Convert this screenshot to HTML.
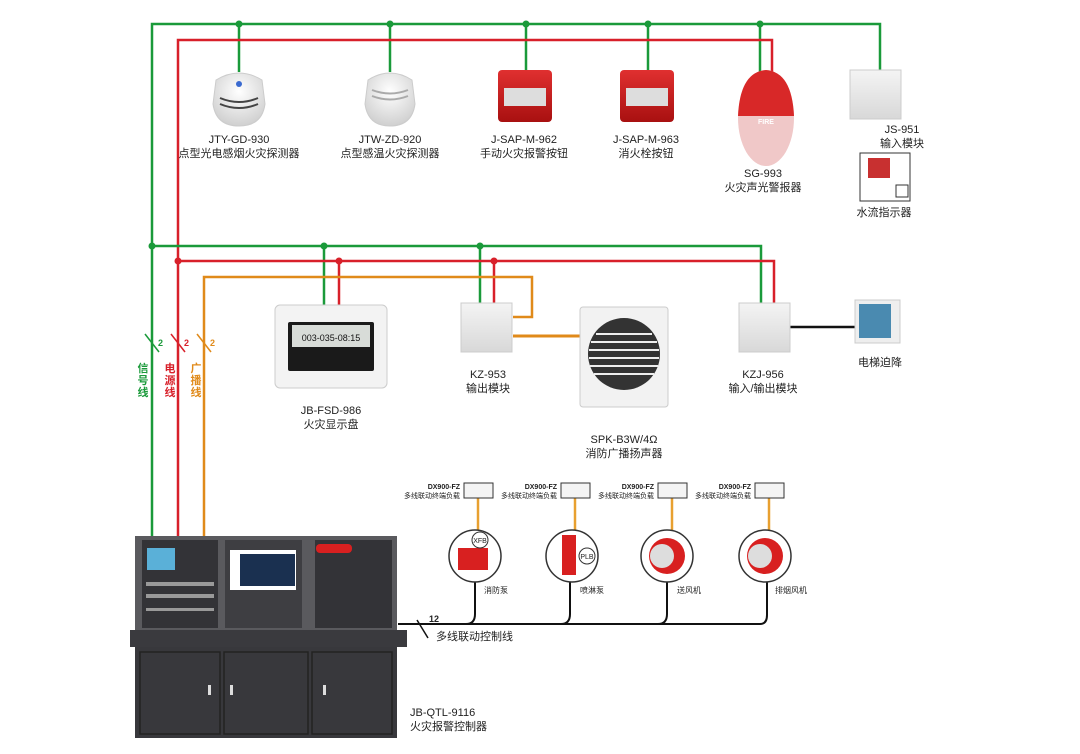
<!DOCTYPE html>
<html><head><meta charset="utf-8"><style>
html,body{margin:0;padding:0;background:#fff;}
svg{display:block;}
text{font-family:"Liberation Sans","Noto Sans CJK SC",sans-serif;fill:#222;}
</style></head><body>
<svg width="1080" height="754" viewBox="0 0 1080 754" xmlns="http://www.w3.org/2000/svg">
<defs>
<radialGradient id="wh" cx="50%" cy="35%" r="65%"><stop offset="0" stop-color="#fff"/><stop offset="1" stop-color="#d0d0d0"/></radialGradient>
<linearGradient id="rd" x1="0" y1="0" x2="0" y2="1"><stop offset="0" stop-color="#e03030"/><stop offset="1" stop-color="#a81010"/></linearGradient>
<linearGradient id="mod" x1="0" y1="0" x2="0" y2="1"><stop offset="0" stop-color="#f4f4f4"/><stop offset="1" stop-color="#d8d8d8"/></linearGradient>
</defs>
<g fill="none" stroke-width="2.5">
<polyline points="152,537 152,24 880,24 880,70" stroke="#1a9a3a"/>
<polyline points="239,24 239,72" stroke="#1a9a3a"/>
<polyline points="390,24 390,72" stroke="#1a9a3a"/>
<polyline points="526,24 526,70" stroke="#1a9a3a"/>
<polyline points="648,24 648,70" stroke="#1a9a3a"/>
<polyline points="760,24 760,78" stroke="#1a9a3a"/>
<polyline points="178,537 178,40 772,40 772,78" stroke="#d8202a"/>
<polyline points="152,246 761,246 761,303" stroke="#1a9a3a"/>
<polyline points="324,246 324,305" stroke="#1a9a3a"/>
<polyline points="480,246 480,303" stroke="#1a9a3a"/>
<polyline points="178,261 774,261 774,303" stroke="#d8202a"/>
<polyline points="339,261 339,305" stroke="#d8202a"/>
<polyline points="494,261 494,303" stroke="#d8202a"/>
<polyline points="204,537 204,277 532,277 532,317 513,317" stroke="#e08a1a"/>
<line x1="513" y1="336" x2="580" y2="336" stroke="#e08a1a" stroke-width="3"/>
<line x1="790" y1="327" x2="857" y2="327" stroke="#111"/>
<line x1="145" y1="334" x2="159" y2="352" stroke="#1a9a3a" stroke-width="1.5"/>
<line x1="171" y1="334" x2="185" y2="352" stroke="#d8202a" stroke-width="1.5"/>
<line x1="197" y1="334" x2="211" y2="352" stroke="#e08a1a" stroke-width="1.5"/>
<path d="M398,624 H760 Q767,624 767,615 V578" stroke="#111" stroke-width="2"/>
<path d="M466,624 Q475,624 475,614 V582" stroke="#111" stroke-width="2"/>
<path d="M561,624 Q570,624 570,614 V582" stroke="#111" stroke-width="2"/>
<path d="M658,624 Q667,624 667,614 V582" stroke="#111" stroke-width="2"/>
<line x1="417" y1="620" x2="428" y2="638" stroke="#111" stroke-width="1.5"/>
<g stroke="#e8a030" stroke-width="2.5">
<line x1="478" y1="498" x2="478" y2="530"/><line x1="575" y1="498" x2="575" y2="530"/>
<line x1="672" y1="498" x2="672" y2="530"/><line x1="769" y1="498" x2="769" y2="530"/>
</g>
</g>
<g fill="#1a9a3a"><circle cx="239" cy="24" r="3.5"/><circle cx="390" cy="24" r="3.5"/><circle cx="526" cy="24" r="3.5"/><circle cx="648" cy="24" r="3.5"/><circle cx="760" cy="24" r="3.5"/><circle cx="152" cy="246" r="3.5"/><circle cx="324" cy="246" r="3.5"/><circle cx="480" cy="246" r="3.5"/></g>
<g fill="#d8202a"><circle cx="178" cy="261" r="3.5"/><circle cx="339" cy="261" r="3.5"/><circle cx="494" cy="261" r="3.5"/></g>

<!-- detectors -->
<path d="M216,80 Q239,66 262,80 L265,104 Q262,126 239,126 Q216,126 213,104 Z" fill="url(#wh)" stroke="#ccc"/>
<circle cx="239" cy="84" r="3" fill="#3a6ad0"/>
<path d="M220,98 Q239,106 258,98 M220,104 Q239,112 258,104" stroke="#444" stroke-width="2" fill="none"/>
<path d="M368,80 Q390,66 412,80 L415,104 Q412,126 390,126 Q368,126 365,104 Z" fill="url(#wh)" stroke="#ccc"/>
<path d="M372,90 Q390,97 408,90 M372,96 Q390,103 408,96" stroke="#aaa" stroke-width="2" fill="none"/>
<!-- buttons -->
<rect x="498" y="70" width="54" height="52" rx="4" fill="url(#rd)"/>
<rect x="504" y="88" width="42" height="18" fill="#ddd"/>
<rect x="620" y="70" width="54" height="52" rx="4" fill="url(#rd)"/>
<rect x="626" y="88" width="42" height="18" fill="#ddd"/>
<!-- SG-993 -->
<ellipse cx="766" cy="118" rx="28" ry="48" fill="#f0c8c8"/>
<path d="M738,116 Q740,72 766,70 Q792,72 794,116 Z" fill="#d82828"/>
<text x="766" y="124" font-size="7" text-anchor="middle" style="fill:#fff" font-weight="bold">FIRE</text>
<!-- JS-951 -->
<rect x="850" y="70" width="51" height="49" fill="url(#mod)" stroke="#ccc"/>
<rect x="860" y="153" width="50" height="48" fill="#fff" stroke="#333"/>
<rect x="868" y="158" width="22" height="20" fill="#c83030"/>
<rect x="896" y="185" width="12" height="12" fill="#fff" stroke="#333"/>
<!-- display -->
<rect x="275" y="305" width="112" height="83" rx="5" fill="#f3f3f3" stroke="#ccc"/>
<rect x="288" y="322" width="86" height="49" rx="2" fill="#1a1a1a"/>
<rect x="292" y="325" width="78" height="22" fill="#d8dcd8"/>
<text x="331" y="341" font-size="9" text-anchor="middle" style="fill:#111">003-035-08:15</text>
<rect x="461" y="303" width="51" height="49" fill="url(#mod)" stroke="#ccc"/>
<rect x="739" y="303" width="51" height="49" fill="url(#mod)" stroke="#ccc"/>
<!-- speaker -->
<rect x="580" y="307" width="88" height="100" rx="3" fill="#f2f2f2" stroke="#ccc"/>
<circle cx="624" cy="354" r="36" fill="#333"/>
<g stroke="#eee" stroke-width="2">
<line x1="596" y1="334" x2="652" y2="334"/><line x1="591" y1="342" x2="657" y2="342"/><line x1="589" y1="350" x2="659" y2="350"/><line x1="589" y1="358" x2="659" y2="358"/><line x1="590" y1="366" x2="658" y2="366"/><line x1="594" y1="374" x2="654" y2="374"/>
</g>
<rect x="855" y="300" width="45" height="43" fill="#eee" stroke="#ccc"/>
<rect x="859" y="304" width="32" height="34" fill="#4a8ab0"/>

<!-- cabinet -->
<rect x="135" y="536" width="262" height="95" fill="#5a5a5e"/>
<rect x="142" y="540" width="76" height="88" fill="#333337"/>
<rect x="147" y="548" width="28" height="22" fill="#5ab0d8"/>
<g fill="#999"><rect x="146" y="582" width="68" height="4"/><rect x="146" y="594" width="68" height="4"/><rect x="146" y="608" width="68" height="3"/></g>
<rect x="225" y="540" width="77" height="88" fill="#3e3e42"/>
<rect x="230" y="550" width="66" height="40" fill="#fff"/>
<rect x="240" y="554" width="55" height="32" fill="#1a3050"/>
<rect x="315" y="540" width="77" height="88" fill="#333337"/>
<rect x="316" y="544" width="36" height="9" rx="4" fill="#d82020"/>
<rect x="130" y="630" width="277" height="17" fill="#3a3a3e"/>
<rect x="135" y="647" width="262" height="91" fill="#38383c"/>
<g stroke="#222" stroke-width="1.5" fill="none"><rect x="140" y="652" width="80" height="82"/><rect x="224" y="652" width="84" height="82"/><rect x="312" y="652" width="80" height="82"/></g>
<g fill="#ddd"><rect x="208" y="685" width="3" height="10"/><rect x="230" y="685" width="3" height="10"/><rect x="323" y="685" width="3" height="10"/></g>

<g fill="#f4f4f4" stroke="#333"><rect x="464" y="483" width="29" height="15"/><rect x="561" y="483" width="29" height="15"/><rect x="658" y="483" width="29" height="15"/><rect x="755" y="483" width="29" height="15"/></g>
<g fill="#fff" stroke="#333" stroke-width="1.5"><circle cx="475" cy="556" r="26"/><circle cx="572" cy="556" r="26"/><circle cx="667" cy="556" r="26"/><circle cx="765" cy="556" r="26"/></g>
<rect x="458" y="548" width="30" height="22" fill="#d82020"/>
<rect x="562" y="535" width="14" height="40" fill="#d82020"/>
<circle cx="667" cy="556" r="18" fill="#d82020"/><circle cx="662" cy="556" r="12" fill="#ddd"/>
<circle cx="765" cy="556" r="18" fill="#d82020"/><circle cx="760" cy="556" r="12" fill="#ddd"/>
<circle cx="480" cy="540" r="8" fill="#fff" stroke="#333"/><text x="480" y="543" font-size="7" text-anchor="middle">XFB</text>
<circle cx="587" cy="556" r="8" fill="#fff" stroke="#333"/><text x="587" y="559" font-size="7" text-anchor="middle">PLB</text>

<g font-size="11" text-anchor="middle">
<text x="239" y="143">JTY-GD-930</text><text x="239" y="157">点型光电感烟火灾探测器</text>
<text x="390" y="143">JTW-ZD-920</text><text x="390" y="157">点型感温火灾探测器</text>
<text x="524" y="143">J-SAP-M-962</text><text x="524" y="157">手动火灾报警按钮</text>
<text x="646" y="143">J-SAP-M-963</text><text x="646" y="157">消火栓按钮</text>
<text x="763" y="177">SG-993</text><text x="763" y="191">火灾声光警报器</text>
<text x="902" y="133">JS-951</text><text x="902" y="147">输入模块</text>
<text x="884" y="216">水流指示器</text>
<text x="488" y="378">KZ-953</text><text x="488" y="392">输出模块</text>
<text x="763" y="378">KZJ-956</text><text x="763" y="392">输入/输出模块</text>
<text x="880" y="366">电梯迫降</text>
<text x="331" y="414">JB-FSD-986</text><text x="331" y="428">火灾显示盘</text>
<text x="624" y="443">SPK-B3W/4Ω</text><text x="624" y="457">消防广播扬声器</text>
</g>
<g font-size="9" font-weight="bold"><text x="158" y="346" style="fill:#1a9a3a">2</text><text x="184" y="346" style="fill:#d8202a">2</text><text x="210" y="346" style="fill:#e08a1a">2</text></g>
<g font-size="11" font-weight="bold" text-anchor="middle">
<text x="143" y="372" style="fill:#1a9a3a">信</text><text x="143" y="384" style="fill:#1a9a3a">号</text><text x="143" y="396" style="fill:#1a9a3a">线</text>
<text x="170" y="372" style="fill:#d8202a">电</text><text x="170" y="384" style="fill:#d8202a">源</text><text x="170" y="396" style="fill:#d8202a">线</text>
<text x="196" y="372" style="fill:#e08a1a">广</text><text x="196" y="384" style="fill:#e08a1a">播</text><text x="196" y="396" style="fill:#e08a1a">线</text>
</g>
<g font-size="7" text-anchor="end">
<text x="460" y="489" font-weight="bold">DX900-FZ</text><text x="460" y="498">多线联动终端负载</text>
<text x="557" y="489" font-weight="bold">DX900-FZ</text><text x="557" y="498">多线联动终端负载</text>
<text x="654" y="489" font-weight="bold">DX900-FZ</text><text x="654" y="498">多线联动终端负载</text>
<text x="751" y="489" font-weight="bold">DX900-FZ</text><text x="751" y="498">多线联动终端负载</text>
</g>
<g font-size="8"><text x="484" y="593">消防泵</text><text x="580" y="593">喷淋泵</text><text x="677" y="593">送风机</text><text x="775" y="593">排烟风机</text></g>
<text x="429" y="622" font-size="9" font-weight="bold">12</text>
<text x="436" y="640" font-size="11">多线联动控制线</text>
<text x="410" y="716" font-size="11">JB-QTL-9116</text>
<text x="410" y="730" font-size="11">火灾报警控制器</text>
</svg>
</body></html>
